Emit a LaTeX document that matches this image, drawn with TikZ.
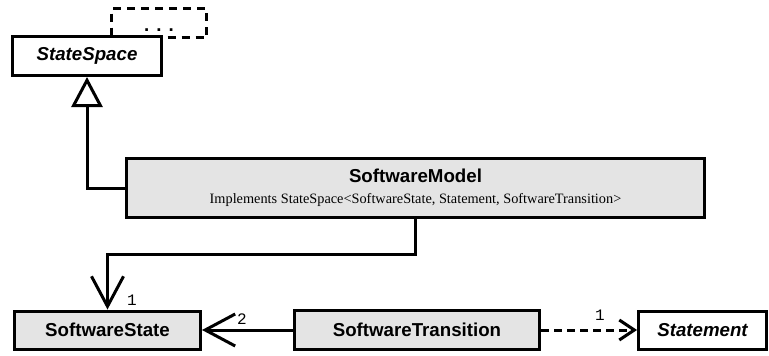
\documentclass[tikz,border=0pt]{standalone}
\usepackage{fontspec}
\setmainfont{Liberation Serif}
\setsansfont{Liberation Sans}
\setmonofont{Liberation Mono}
\usetikzlibrary{arrows.meta}
\definecolor{boxgray}{RGB}{228,228,228}

\begin{document}
\begin{tikzpicture}[x=1pt, y=-1pt,
        cls/.style={draw=black, line width=3pt, fill=white, inner sep=0pt,
            font=\fontsize{18.7}{22}\selectfont\sffamily\bfseries},
        impl/.style={cls, fill=boxgray},
        mult/.style={inner sep=0pt, font=\fontsize{16}{16}\selectfont\ttfamily},
        assoc/.style={black, line width=3pt, -{Straight Barb[length=30pt, width=32pt]}},
        inherit/.style={black, line width=3pt, -{Triangle[open, length=30pt, width=31pt, fill=white]}},
        depend/.style={black, line width=3pt, dash pattern=on 8pt off 5pt, -{Straight Barb[length=15pt, width=20pt]}}]
        \useasboundingbox (0, 0) rectangle (769, 356);
        % interface and what lies behind it
        \node [cls, fill=none, dash pattern=on 8pt off 6pt, minimum width=95pt, minimum height=29pt] at (159, 23) (More) {\vphantom{S}\raisebox{-3pt}{.\hspace{7pt}.\hspace{7pt}.}};
        \node [cls, minimum width=149pt, minimum height=39pt] at (87, 56) (StateSpace) {\itshape StateSpace};
        % the model
        \node [impl, minimum width=578pt, minimum height=59pt, align=center] at (415.5, 188) (SoftwareModel) {SoftwareModel\\[-1pt]
            \fontsize{14.3}{17}\selectfont\rmfamily\mdseries Implements StateSpace<SoftwareState, Statement, SoftwareTransition>};
        % bottom row
        \node [impl, minimum width=186pt, minimum height=38pt] at (107.5, 330) (SoftwareState) {SoftwareState};
        \node [impl, minimum width=245pt, minimum height=39pt] at (417, 330) (SoftwareTransition) {SoftwareTransition};
        \node [cls, minimum width=128pt, minimum height=38pt] at (702.5, 330) (Statement) {\itshape Statement};
        % connectors
        \draw [inherit] (SoftwareModel.west) -| (StateSpace.south);
        \draw [assoc] (SoftwareModel.south) -- ++(0, 35) -| (SoftwareState.north);
        \draw [assoc] (SoftwareTransition.west) -- (SoftwareState.east);
        \draw [depend] (SoftwareTransition.east) -- (Statement.west);
        \node [mult] at (132, 300) (M1) {1};
        \node [mult] at (242, 319) (M2) {2};
        \node [mult] at (600, 315) (M3) {1};
\end{tikzpicture}
\end{document}
